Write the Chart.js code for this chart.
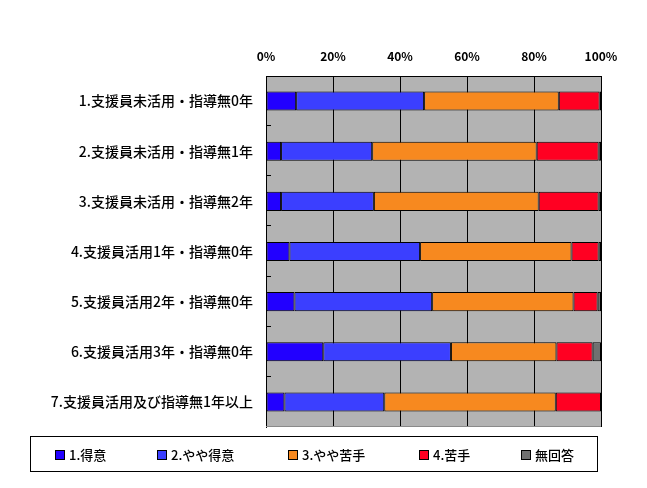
<!DOCTYPE html>
<html>
<head>
<meta charset="utf-8">
<script src="https://cdn.jsdelivr.net/npm/chart.js@4/dist/chart.umd.min.js"></script>
<style>
  body { margin: 0; background: #fff; }
  #wrap { position: relative; width: 647px; height: 488px; }
  #legend {
    position: absolute; left: 30px; top: 436px; width: 568px; height: 36px;
    border: 1.5px solid #000; box-sizing: border-box;
    font-family: "Noto Sans CJK JP", sans-serif; font-size: 13px; font-weight: 500; color: #000;
  }
  .item { position: absolute; top: 8px; display: flex; align-items: center; white-space: nowrap; }
  .box { width: 8px; height: 8px; border: 1px solid #000; margin-right: 4px; }
</style>
</head>
<body>
<div id="wrap">
  <canvas id="chart" width="647" height="488"></canvas>
  <div id="legend"></div>
</div>
<script>
// categories (top to bottom)
const categories = [
  '1.支援員未活用・指導無0年',
  '2.支援員未活用・指導無1年',
  '3.支援員未活用・指導無2年',
  '4.支援員活用1年・指導無0年',
  '5.支援員活用2年・指導無0年',
  '6.支援員活用3年・指導無0年',
  '7.支援員活用及び指導無1年以上'
];

// percentages
const tokui      = [9.0, 4.5, 4.5, 7.0, 8.5, 17.1, 5.5];
const yayaTokui  = [38.2, 27.2, 27.7, 39.0, 41.1, 38.1, 29.8];
const yayaNigate = [40.2, 49.1, 49.2, 45.2, 42.2, 31.5, 51.2];
const nigate     = [12.2, 18.5, 17.9, 8.1, 7.2, 10.8, 13.5];
const mukaitou   = [0.4, 0.7, 0.7, 0.7, 1.0, 2.5, 0];

const xTicks = [0, 20, 40, 60, 80, 100];

const series = [
  { label: '1.得意', data: tokui, color: '#2200ff' },
  { label: '2.やや得意', data: yayaTokui, color: '#3b3fff' },
  { label: '3.やや苦手', data: yayaNigate, color: '#f7891f' },
  { label: '4.苦手', data: nigate, color: '#ff0022' },
  { label: '無回答', data: mukaitou, color: '#707070' }
];

// gray plot background, inward ticks on the category axis
const plotDecor = {
  id: 'plotDecor',
  beforeDraw(chart) {
    const { ctx, chartArea: a } = chart;
    ctx.save();
    ctx.fillStyle = '#b3b3b3';
    ctx.fillRect(a.left, a.top, a.right - a.left, a.bottom - a.top);
    ctx.restore();
  },
  afterDatasetsDraw(chart) {
    const { ctx, chartArea: a } = chart;
    const step = (a.bottom - a.top) / categories.length;
    ctx.save();
    ctx.strokeStyle = '#000';
    ctx.lineWidth = 1;
    for (let i = 1; i <= categories.length; i++) {
      const y = Math.round(a.top + i * step) - 0.5;
      ctx.beginPath();
      ctx.moveTo(a.left, y);
      ctx.lineTo(a.left + 5, y);
      ctx.stroke();
    }
    ctx.strokeStyle = '#8a8a8a';
    ctx.beginPath();
    ctx.moveTo(a.left, a.bottom - 0.5);
    ctx.lineTo(a.right, a.bottom - 0.5);
    ctx.stroke();
    ctx.restore();
  }
};

new Chart(document.getElementById('chart'), {
  type: 'bar',
  data: {
    labels: categories,
    datasets: series.map(s => ({
      label: s.label,
      data: s.data,
      backgroundColor: s.color,
      borderColor: '#000',
      borderWidth: 1,
      borderSkipped: false,
      categoryPercentage: 1,
      barPercentage: 0.38
    }))
  },
  options: {
    indexAxis: 'y',
    responsive: false,
    animation: false,
    layout: { padding: { left: 0, right: 46, top: 0, bottom: 61 } },
    plugins: { legend: { display: false }, tooltip: { enabled: false } },
    scales: {
      x: {
        position: 'top',
        stacked: true,
        min: 0,
        max: 100,
        afterBuildTicks: s => { s.ticks = xTicks.map(v => ({ value: v })); },
        afterFit: s => { s.height = 76; },
        ticks: {
          callback: v => v + '%',
          padding: 12,
          color: '#000',
          font: { family: 'Noto Sans CJK JP', size: 12, weight: 'bold' }
        },
        grid: { color: '#000', lineWidth: 1, drawTicks: false },
        border: { color: '#000' }
      },
      y: {
        stacked: true,
        afterFit: s => { s.width = 266; },
        ticks: {
          padding: 13,
          color: '#000',
          font: { family: 'Noto Sans CJK JP', size: 14, weight: '500' }
        },
        grid: { display: false, drawTicks: false },
        border: { display: true, color: '#000' }
      }
    }
  },
  plugins: [plotDecor]
});

// legend
const legendX = [24, 126, 257, 388, 490];
const legend = document.getElementById('legend');
series.forEach((s, i) => {
  const item = document.createElement('div');
  item.className = 'item';
  item.style.left = legendX[i] + 'px';
  item.innerHTML = '<span class="box" style="background:' + s.color + '"></span><span>' + s.label + '</span>';
  legend.appendChild(item);
});
</script>
</body>
</html>
